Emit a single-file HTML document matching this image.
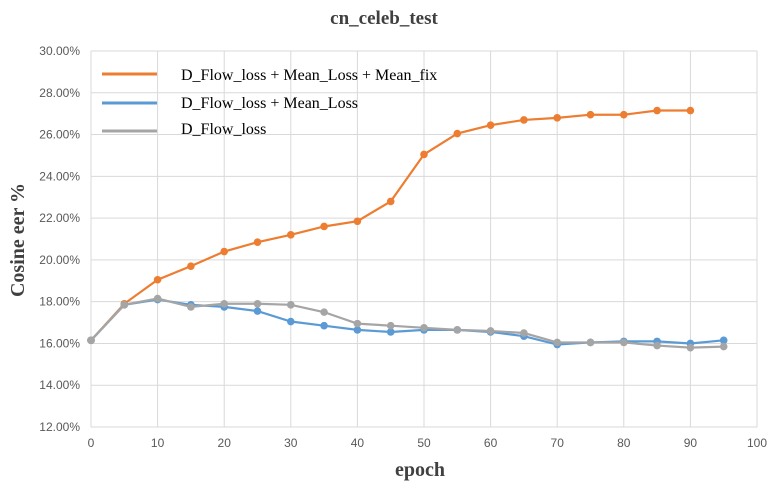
<!DOCTYPE html>
<html><head><style>body{margin:0;background:#fff}</style></head><body>
<svg id="s" width="777" height="492" xmlns="http://www.w3.org/2000/svg" font-family="Liberation Sans, sans-serif">
<rect width="777" height="492" fill="#fff"/>
<text x="384" y="24" text-anchor="middle" font-family="Liberation Serif, serif" font-weight="bold" font-size="19" fill="#404040">cn_celeb_test</text>
<g id="grid"></g>
<text x="420" y="476" text-anchor="middle" font-family="Liberation Serif, serif" font-weight="bold" font-size="20" fill="#404040">epoch</text>
<text transform="translate(24,240) rotate(-90)" text-anchor="middle" font-family="Liberation Serif, serif" font-weight="bold" font-size="20" fill="#404040">Cosine eer %</text>
<g id="series"></g>
<g font-family="Liberation Serif, serif" font-size="16" fill="#000">
<line x1="102" y1="74" x2="157" y2="74" stroke="#ED7D31" stroke-width="3"/>
<text x="181" y="80">D_Flow_loss + Mean_Loss + Mean_fix</text>
<line x1="102" y1="103" x2="157" y2="103" stroke="#5B9BD5" stroke-width="3"/>
<text x="181" y="108">D_Flow_loss + Mean_Loss</text>
<line x1="102" y1="131" x2="157" y2="131" stroke="#A5A5A5" stroke-width="3"/>
<text x="181" y="134">D_Flow_loss</text>
</g>
</svg>
<script>
const X=e=>91+e*6.66, Y=v=>51+(30-v)*20.89;
let g='';
for(let i=0;i<=10;i++){g+=`<line x1="${X(i*10)}" y1="51" x2="${X(i*10)}" y2="427" stroke="#d9d9d9"/>`;
g+=`<text x="${X(i*10)}" y="447" text-anchor="middle" font-size="12" fill="#595959">${i*10}</text>`;}
for(let v=12;v<=30;v+=2){g+=`<line x1="91" y1="${Y(v)}" x2="757" y2="${Y(v)}" stroke="#d9d9d9"/>`;
g+=`<text x="80" y="${Y(v)+4}" text-anchor="end" font-size="12" fill="#595959">${v.toFixed(2)}%</text>`;}
document.getElementById('grid').innerHTML=g;
const d={
"#ED7D31":[16.15,17.9,19.05,19.7,20.4,20.85,21.2,21.6,21.85,22.8,25.05,26.05,26.45,26.7,26.8,26.95,26.95,27.15,27.15],
"#5B9BD5":[16.15,17.85,18.1,17.85,17.75,17.55,17.05,16.85,16.65,16.55,16.65,16.65,16.55,16.35,15.95,16.05,16.1,16.1,16.0,16.15],
"#A5A5A5":[16.15,17.85,18.15,17.75,17.9,17.9,17.85,17.5,16.95,16.85,16.75,16.65,16.6,16.5,16.05,16.05,16.05,15.9,15.8,15.85]};
let s='';
for(const c in d){const p=d[c].map((v,i)=>[X(i*5),Y(v)]);
s+=`<polyline fill="none" stroke="${c}" stroke-width="2.2" points="${p.map(q=>q.join(',')).join(' ')}"/>`;
p.forEach(q=>s+=`<circle cx="${q[0]}" cy="${q[1]}" r="3.8" fill="${c}"/>`);}
document.getElementById('series').innerHTML=s;
</script>
</body></html>
